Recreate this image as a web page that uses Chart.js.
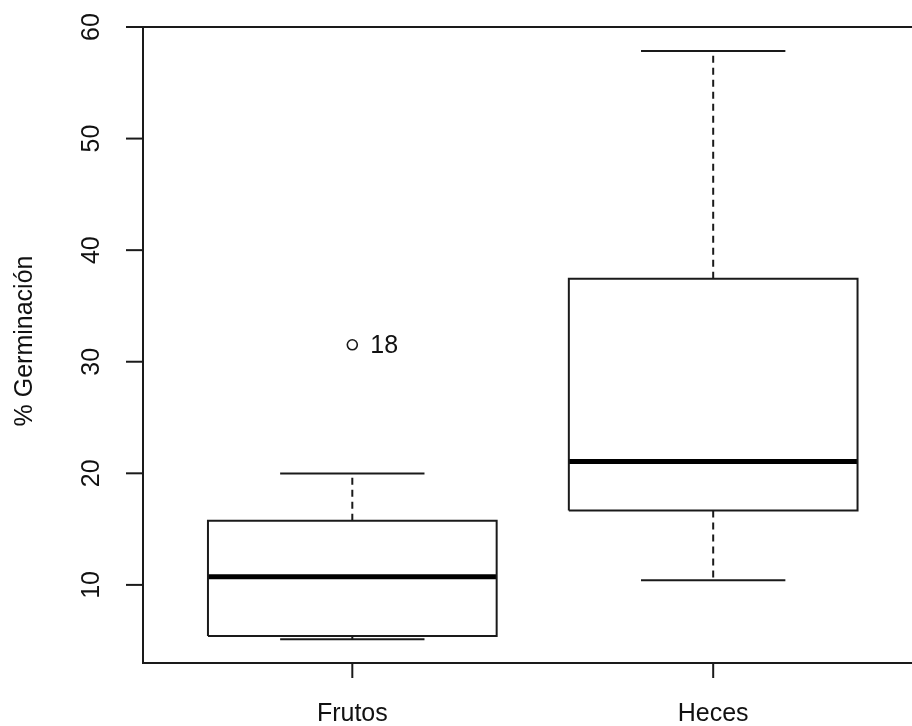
<!DOCTYPE html>
<html>
<head>
<meta charset="utf-8">
<script src="https://cdn.jsdelivr.net/npm/chart.js@4/dist/chart.umd.min.js"></script>
<style>
  html, body { margin: 0; padding: 0; background: #fff; overflow: hidden; }
  #wrap { width: 912px; height: 726px; overflow: hidden; }
  canvas { display: block; }
</style>
</head>
<body>
<div id="wrap"><canvas id="c" width="940" height="726"></canvas></div>
<script>
// ---- data ----
const categories   = ['Frutos', 'Heces'];
const whiskerLow   = [5.13, 10.42];
const quartile1    = [5.43, 16.66];
const medians      = [10.74, 21.05];
const quartile3    = [15.74, 37.43];
const whiskerHigh  = [19.98, 57.85];
const outlierVals  = [[31.52], []];
const outlierNames = [['18'], []];
const yTickValues  = [10, 20, 30, 40, 50, 60];
const yAxisTitle   = '% Germinación';

// ---- style constants (R boxplot defaults) ----
const BOX_HALF = 0.4;     // boxwex 0.8
const CAP_HALF = 0.2;     // staplewex 0.5
const INK = '#1a1a1a';
const FONT = '25px "Liberation Sans", Arial, sans-serif';

const datasets = [];
categories.forEach((name, i) => {
  const x = i + 1;
  // whiskers (dashed)
  datasets.push({ type: 'line', data: [{x, y: quartile3[i]}, {x, y: whiskerHigh[i]}],
    borderColor: INK, borderWidth: 2, borderDash: [7, 5], pointRadius: 0, fill: false });
  datasets.push({ type: 'line', data: [{x, y: quartile1[i]}, {x, y: whiskerLow[i]}],
    borderColor: INK, borderWidth: 2, borderDash: [7, 5], pointRadius: 0, fill: false });
  // staples
  datasets.push({ type: 'line', data: [{x: x - CAP_HALF, y: whiskerHigh[i]}, {x: x + CAP_HALF, y: whiskerHigh[i]}],
    borderColor: INK, borderWidth: 2, pointRadius: 0, fill: false });
  datasets.push({ type: 'line', data: [{x: x - CAP_HALF, y: whiskerLow[i]}, {x: x + CAP_HALF, y: whiskerLow[i]}],
    borderColor: INK, borderWidth: 2, pointRadius: 0, fill: false });
  // box
  datasets.push({ type: 'line', data: [
      {x: x - BOX_HALF, y: quartile1[i]}, {x: x + BOX_HALF, y: quartile1[i]},
      {x: x + BOX_HALF, y: quartile3[i]}, {x: x - BOX_HALF, y: quartile3[i]},
      {x: x - BOX_HALF, y: quartile1[i]}],
    borderColor: INK, borderWidth: 2, pointRadius: 0, fill: false, borderJoinStyle: 'miter', backgroundColor: '#fff' });
  // median
  datasets.push({ type: 'line', data: [{x: x - BOX_HALF, y: medians[i]}, {x: x + BOX_HALF, y: medians[i]}],
    borderColor: '#000', borderWidth: 5, borderCapStyle: 'butt', pointRadius: 0, fill: false });
  // outliers
  if (outlierVals[i].length) {
    datasets.push({ type: 'scatter', data: outlierVals[i].map((v, k) => ({x, y: v, name: outlierNames[i][k]})),
      pointStyle: 'circle', pointRadius: 5, borderColor: INK, borderWidth: 1.6, backgroundColor: '#fff', showLine: false,
      isOutlier: true });
  }
});

const rAxes = {
  id: 'rAxes',
  afterDraw(chart) {
    const ctx = chart.ctx;
    const a = chart.chartArea;
    const ys = chart.scales.y, xs = chart.scales.x;
    ctx.save();
    ctx.strokeStyle = INK;
    ctx.lineWidth = 2;
    ctx.setLineDash([]);
    // frame
    ctx.strokeRect(a.left, a.top, a.right - a.left, a.bottom - a.top);
    // y ticks
    ctx.fillStyle = '#111';
    ctx.font = FONT;
    yTickValues.forEach(v => {
      const py = ys.getPixelForValue(v);
      ctx.beginPath(); ctx.moveTo(a.left - 17, py); ctx.lineTo(a.left, py); ctx.stroke();
      ctx.save();
      ctx.translate(a.left - 51, py);
      ctx.rotate(-Math.PI / 2);
      ctx.textAlign = 'center'; ctx.textBaseline = 'middle';
      ctx.fillText(String(v), 0, 0);
      ctx.restore();
    });
    // x ticks
    categories.forEach((name, i) => {
      const px = xs.getPixelForValue(i + 1);
      ctx.beginPath(); ctx.moveTo(px, a.bottom); ctx.lineTo(px, a.bottom + 15); ctx.stroke();
      ctx.textAlign = 'center'; ctx.textBaseline = 'alphabetic';
      ctx.fillText(name, px, a.bottom + 58);
    });
    // y title
    ctx.save();
    ctx.translate(25, (a.top + a.bottom) / 2 - 4);
    ctx.rotate(-Math.PI / 2);
    ctx.textAlign = 'center'; ctx.textBaseline = 'middle';
    ctx.fillText(yAxisTitle, 0, 0);
    ctx.restore();
    // outlier labels
    chart.data.datasets.forEach((ds, di) => {
      if (!ds.isOutlier) return;
      ds.data.forEach(p => {
        ctx.textAlign = 'left'; ctx.textBaseline = 'middle';
        ctx.fillText(p.name, xs.getPixelForValue(p.x) + 18, ys.getPixelForValue(p.y) + 1);
      });
    });
    ctx.restore();
  }
};

new Chart(document.getElementById('c'), {
  type: 'line',
  data: { datasets },
  options: {
    responsive: false,
    animation: false,
    devicePixelRatio: 1,
    layout: { padding: { left: 143, top: 27, right: 17.5, bottom: 63 } },
    plugins: { legend: { display: false }, tooltip: { enabled: false } },
    scales: {
      x: { type: 'linear', min: 0.42, max: 2.58, display: false },
      y: { type: 'linear', min: 3, max: 60, display: false }
    },
    elements: { line: { tension: 0 } }
  },
  plugins: [rAxes]
});
</script>
</body>
</html>
